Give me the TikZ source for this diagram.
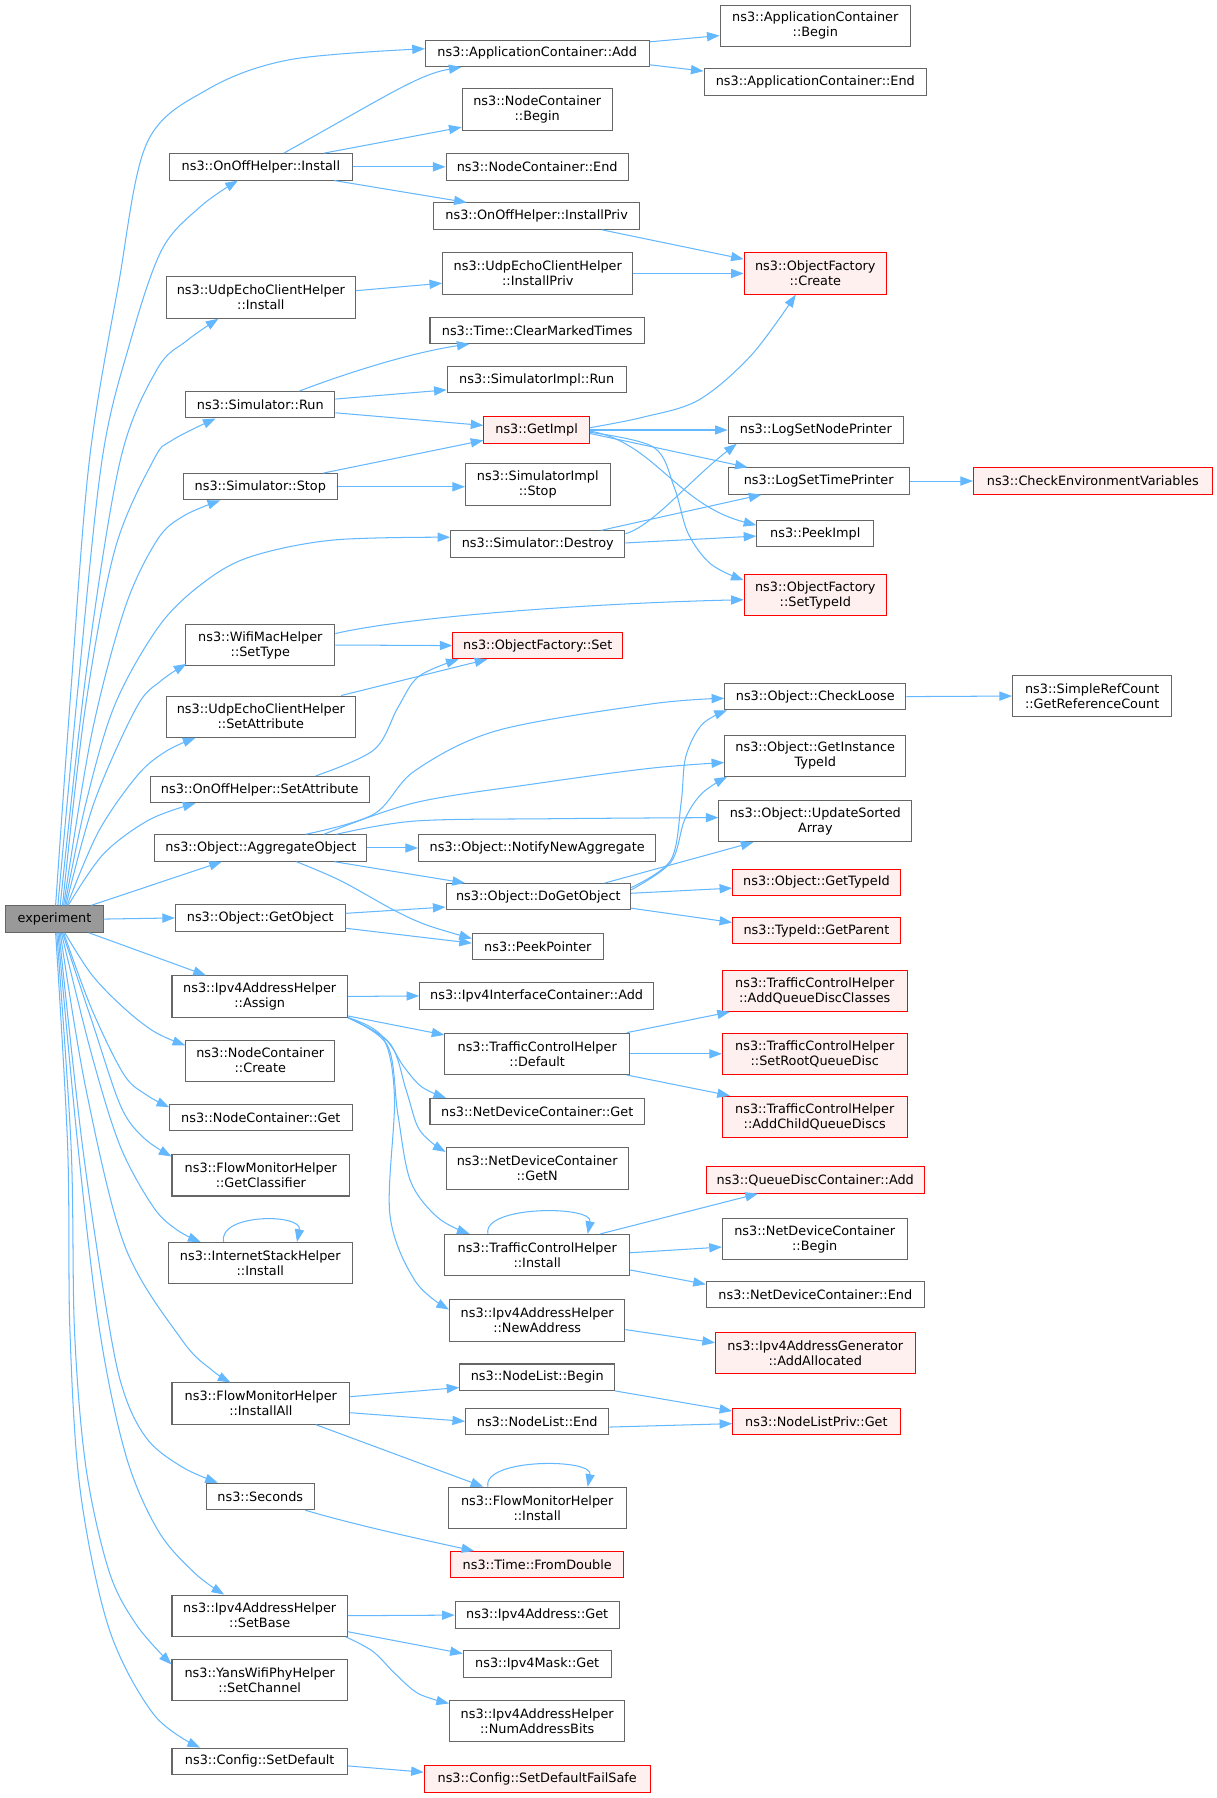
\documentclass[tikz,border=0pt]{standalone}
\usepackage{fontspec}
\setmainfont{DejaVu Sans}
\usetikzlibrary{arrows.meta}
\definecolor{edgec}{HTML}{63B8FF}
\definecolor{nodeb}{HTML}{666666}
\definecolor{warnf}{HTML}{FFF0F0}
\definecolor{warnb}{HTML}{FF0000}
\definecolor{rootf}{HTML}{999999}
\begin{document}
\begin{tikzpicture}[x=1pt,y=-1pt,
  fn/.style={draw=nodeb, fill=white, line width=0.9pt, inner sep=0pt, minimum height=23pt,
    font=\fontsize{11.2}{13.1}\selectfont, align=center, text=black},
  two/.style={minimum height=36pt},
  warn/.style={draw=warnb, fill=warnf},
  rootn/.style={fill=rootf},
  conn/.style={draw=edgec, line width=0.9pt, -{Triangle[length=11pt,width=8pt]}},
  sm/.style={smooth, tension=0.55}]
\fill[white] (0,0) rectangle (1061,1568);
\useasboundingbox (0,0) rectangle (1061,1568);

% nodes
\node[fn,rootn,minimum width=85pt] (exper) at (47.5,801.5) {experiment};
\node[fn,minimum width=195pt] (acAdd) at (468.5,46.5) {ns3::ApplicationContainer::Add};
\node[fn,two,minimum width=166pt] (acBegin) at (711,22.5) {ns3::ApplicationContainer\\::Begin};
\node[fn,minimum width=194pt] (acEnd) at (711,71.5) {ns3::ApplicationContainer::End};
\node[fn,two,minimum width=131pt] (ncBegin) at (468.5,95.5) {ns3::NodeContainer\\::Begin};
\node[fn,minimum width=159pt] (onInstall) at (227.5,145.5) {ns3::OnOffHelper::Install};
\node[fn,minimum width=159pt] (ncEnd) at (468.5,145.5) {ns3::NodeContainer::End};
\node[fn,minimum width=180pt] (onInstallPriv) at (468,188.5) {ns3::OnOffHelper::InstallPriv};
\node[fn,two,minimum width=166pt] (udpInstallPriv) at (469,238.5) {ns3::UdpEchoClientHelper\\::InstallPriv};
\node[fn,two,warn,minimum width=124pt] (ofCreate) at (711,238.5) {ns3::ObjectFactory\\::Create};
\node[fn,two,minimum width=165pt] (udpInstall) at (227.5,259.5) {ns3::UdpEchoClientHelper\\::Install};
\node[fn,minimum width=187pt] (clearMarked) at (468.5,288) {ns3::Time::ClearMarkedTimes};
\node[fn,minimum width=156pt] (simImplRun) at (468,331) {ns3::SimulatorImpl::Run};
\node[fn,minimum width=130pt] (simRun) at (227,353) {ns3::Simulator::Run};
\node[fn,warn,minimum width=92pt] (getImpl) at (468,375) {ns3::GetImpl};
\node[fn,minimum width=153pt] (logNode) at (711.5,375) {ns3::LogSetNodePrinter};
\node[fn,minimum width=158pt] (logTime) at (714,419.5) {ns3::LogSetTimePrinter};
\node[fn,warn,minimum width=208pt] (checkEnv) at (953,419.5) {ns3::CheckEnvironmentVariables};
\node[fn,minimum width=134pt] (simStop) at (227,424.5) {ns3::Simulator::Stop};
\node[fn,two,minimum width=126pt] (simImplStop) at (469,422.5) {ns3::SimulatorImpl\\::Stop};
\node[fn,minimum width=152pt] (simDestroy) at (469,474.5) {ns3::Simulator::Destroy};
\node[fn,minimum width=102pt] (peekImpl) at (711,465.5) {ns3::PeekImpl};
\node[fn,two,warn,minimum width=124pt] (ofSetTypeId) at (711,519) {ns3::ObjectFactory\\::SetTypeId};
\node[fn,two,minimum width=130pt] (wifiSetType) at (227,562.5) {ns3::WifiMacHelper\\::SetType};
\node[fn,warn,minimum width=148pt] (ofSet) at (469,563) {ns3::ObjectFactory::Set};
\node[fn,two,minimum width=165pt] (udpSetAttr) at (227.5,625) {ns3::UdpEchoClientHelper\\::SetAttribute};
\node[fn,minimum width=158pt] (checkLoose) at (711,607.5) {ns3::Object::CheckLoose};
\node[fn,two,minimum width=139pt] (refCount) at (952.5,607) {ns3::SimpleRefCount\\::GetReferenceCount};
\node[fn,two,minimum width=158pt] (getInstTid) at (711,659) {ns3::Object::GetInstance\\TypeId};
\node[fn,minimum width=191pt] (onSetAttr) at (226.5,688.5) {ns3::OnOffHelper::SetAttribute};
\node[fn,two,minimum width=168pt] (updSorted) at (711,716) {ns3::Object::UpdateSorted\\Array};
\node[fn,minimum width=185pt] (aggObj) at (227.5,739.5) {ns3::Object::AggregateObject};
\node[fn,minimum width=207pt] (notifyAgg) at (468.5,739.5) {ns3::Object::NotifyNewAggregate};
\node[fn,minimum width=161pt] (doGetObj) at (469.5,782) {ns3::Object::DoGetObject};
\node[fn,warn,minimum width=146pt] (getTypeId) at (712,769.5) {ns3::Object::GetTypeId};
\node[fn,minimum width=148pt] (getObj) at (227,800.5) {ns3::Object::GetObject};
\node[fn,warn,minimum width=146pt] (getParent) at (712,811.5) {ns3::TypeId::GetParent};
\node[fn,minimum width=114pt] (peekPtr) at (469,825.5) {ns3::PeekPointer};
\node[fn,two,minimum width=153pt] (assign) at (226.5,869) {ns3::Ipv4AddressHelper\\::Assign};
\node[fn,minimum width=204pt] (ifcAdd) at (468,868.5) {ns3::Ipv4InterfaceContainer::Add};
\node[fn,two,warn,minimum width=161pt] (addQDC) at (710.5,864) {ns3::TrafficControlHelper\\::AddQueueDiscClasses};
\node[fn,two,minimum width=161pt] (tchDefault) at (468.5,919) {ns3::TrafficControlHelper\\::Default};
\node[fn,two,warn,minimum width=161pt] (setRootQD) at (710.5,919) {ns3::TrafficControlHelper\\::SetRootQueueDisc};
\node[fn,two,minimum width=130pt] (ncCreate) at (227,925) {ns3::NodeContainer\\::Create};
\node[fn,two,warn,minimum width=161pt] (addChildQD) at (710.5,974) {ns3::TrafficControlHelper\\::AddChildQueueDiscs};
\node[fn,minimum width=187pt] (ndcGet) at (468.5,969.5) {ns3::NetDeviceContainer::Get};
\node[fn,minimum width=159pt] (ncGet) at (227.5,974.5) {ns3::NodeContainer::Get};
\node[fn,two,minimum width=155pt] (getClassifier) at (227.5,1025) {ns3::FlowMonitorHelper\\::GetClassifier};
\node[fn,two,minimum width=159pt] (ndcGetN) at (468.5,1019) {ns3::NetDeviceContainer\\::GetN};
\node[fn,warn,minimum width=190pt] (qdcAdd) at (711,1029) {ns3::QueueDiscContainer::Add};
\node[fn,two,minimum width=161pt] (ndcBegin) at (710.5,1080.5) {ns3::NetDeviceContainer\\::Begin};
\node[fn,two,minimum width=161pt] (tchInstall) at (468.5,1094.5) {ns3::TrafficControlHelper\\::Install};
\node[fn,two,minimum width=160pt] (ishInstall) at (227,1101.5) {ns3::InternetStackHelper\\::Install};
\node[fn,minimum width=190pt] (ndcEnd) at (711,1129) {ns3::NetDeviceContainer::End};
\node[fn,two,minimum width=153pt] (newAddr) at (468.5,1151.5) {ns3::Ipv4AddressHelper\\::NewAddress};
\node[fn,two,warn,minimum width=174pt] (addAlloc) at (711,1180) {ns3::Ipv4AddressGenerator\\::AddAllocated};
\node[fn,minimum width=135pt] (nlBegin) at (468.5,1201) {ns3::NodeList::Begin};
\node[fn,two,minimum width=155pt] (installAll) at (227.5,1224) {ns3::FlowMonitorHelper\\::InstallAll};
\node[fn,minimum width=125pt] (nlEnd) at (468.5,1239.5) {ns3::NodeList::End};
\node[fn,warn,minimum width=146pt] (nlpGet) at (712,1239.5) {ns3::NodeListPriv::Get};
\node[fn,two,minimum width=155pt] (fmhInstall) at (468.5,1315) {ns3::FlowMonitorHelper\\::Install};
\node[fn,minimum width=94pt] (seconds) at (227,1305) {ns3::Seconds};
\node[fn,warn,minimum width=151pt] (fromDouble) at (468.5,1364.5) {ns3::Time::FromDouble};
\node[fn,two,minimum width=153pt] (setBase) at (226.5,1409) {ns3::Ipv4AddressHelper\\::SetBase};
\node[fn,minimum width=143pt] (v4Get) at (468.5,1408.5) {ns3::Ipv4Address::Get};
\node[fn,minimum width=129pt] (maskGet) at (468.5,1451) {ns3::Ipv4Mask::Get};
\node[fn,two,minimum width=153pt] (numBits) at (468.5,1501) {ns3::Ipv4AddressHelper\\::NumAddressBits};
\node[fn,two,minimum width=153pt] (setChannel) at (226.5,1465) {ns3::YansWifiPhyHelper\\::SetChannel};
\node[fn,minimum width=153pt] (setDefault) at (226.5,1536) {ns3::Config::SetDefault};
\node[fn,warn,minimum width=197pt] (failSafe) at (468.5,1551.5) {ns3::Config::SetDefaultFailSafe};

% edges from experiment (upwards)
\draw[conn] plot[sm] coordinates {([xshift=1pt]exper.north) (62,600) (78,401) (103,250) (128,125) (181,78) (253,52) ([yshift=4pt]acAdd.west)};
\draw[conn] plot[sm] coordinates {([xshift=3pt]exper.north) (68,600) (89,401) (113,300) (141,218) (175,180) ([xshift=-20pt]onInstall.south)};
\draw[conn] plot[sm] coordinates {([xshift=5pt]exper.north) (76,580) (105,401) (137,322) (163,297) ([xshift=-37pt]udpInstall.south)};
\draw[conn] plot[sm] coordinates {([xshift=7pt]exper.north) (74,620) (100,480) (134,401) (150,384) ([xshift=-39pt]simRun.south)};
\draw[conn] plot[sm] coordinates {([xshift=8pt]exper.north) (80,640) (109,530) (137,471) (160,450) ([xshift=-35pt]simStop.south)};
\draw[conn] plot[sm] coordinates {([xshift=9pt]exper.north) (75,700) (100,615) (138,547) (175,510) (217,486) (290,471) ([yshift=6pt]simDestroy.west)};
\draw[conn] plot[sm] coordinates {([xshift=10pt]exper.north) (82,700) (119,617) (140,594) ([xshift=1pt,yshift=2pt]wifiSetType.south west)};
\draw[conn] plot[sm] coordinates {([xshift=11pt]exper.north) (86,725) (120,676) (145,655) ([xshift=-57pt]udpSetAttr.south)};
\draw[conn] plot[sm] coordinates {([xshift=12pt]exper.north) (90,745) (130,715) ([xshift=-56pt]onSetAttr.south)};
\draw[conn] ([xshift=32pt]exper.north) -- ([xshift=-34pt]aggObj.south);
\draw[conn] (exper.east) -- (getObj.west);
% edges from experiment (downwards)
\draw[conn] ([xshift=30pt]exper.south) -- ([xshift=-47pt]assign.north);
\draw[conn] plot[sm] coordinates {([xshift=9pt]exper.south) (80,850) (108,879) (135,900) ([yshift=-5pt]ncCreate.north west)};
\draw[conn] plot[sm] coordinates {([xshift=8pt]exper.south) (80,880) (108,937) (128,955) ([yshift=-3pt]ncGet.north west)};
\draw[conn] plot[sm] coordinates {([xshift=7pt]exper.south) (80,890) (105,964) (125,992) ([yshift=-2pt]getClassifier.north west)};
\draw[conn] plot[sm] coordinates {([xshift=6pt]exper.south) (80,920) (105,1000) (134,1053) (155,1073) ([xshift=-52pt]ishInstall.north)};
\draw[conn] plot[sm] coordinates {([xshift=5pt]exper.south) (75,950) (109,1087) (159,1169) (185,1195) ([xshift=-26.5pt]installAll.north)};
\draw[conn] plot[sm] coordinates {([xshift=4pt]exper.south) (72,1000) (96,1161) (110,1220) (130,1257) (160,1280) ([xshift=-37pt]seconds.north)};
\draw[conn] plot[sm] coordinates {([xshift=3pt]exper.south) (68,1000) (87,1161) (110,1270) (138,1335) (170,1372) ([xshift=-31pt]setBase.north)};
\draw[conn] plot[sm] coordinates {([xshift=2pt]exper.south) (62,1000) (65,1161) (75,1280) (95,1370) (119,1417) ([yshift=-5pt]setChannel.north west)};
\draw[conn] plot[sm] coordinates {([xshift=1pt]exper.south) (59,1000) (61,1161) (70,1300) (95,1420) (134,1495) ([xshift=-52pt]setDefault.north)};

% OnOffHelper::Install
\draw[conn] ([xshift=20pt]onInstall.north) .. controls (340,82) and (365,65) .. ([xshift=-66pt]acAdd.south);
\draw[conn] ([xshift=55pt]onInstall.north) -- ([yshift=3pt]ncBegin.south west);
\draw[conn] (onInstall.east) -- (ncEnd.west);
\draw[conn] ([xshift=64pt]onInstall.south) -- ([xshift=-61pt]onInstallPriv.north);
% ApplicationContainer::Add
\draw[conn] ([yshift=10pt]acAdd.east) -- ([yshift=-8.5pt]acBegin.west);
\draw[conn] ([yshift=-10pt]acAdd.east) -- ([yshift=9.5pt]acEnd.west);
% Create
\draw[conn] ([xshift=57pt]onInstallPriv.south) -- ([yshift=12.5pt]ofCreate.west);
\draw[conn] (udpInstallPriv.east) -- (ofCreate.west);
\draw[conn] ([yshift=6pt]udpInstall.east) -- ([yshift=-8.5pt]udpInstallPriv.west);
% Simulator::Run
\draw[conn] ([xshift=34pt]simRun.north) .. controls (295,328) and (355,308) .. ([xshift=-59pt]clearMarked.south);
\draw[conn] ([yshift=5pt]simRun.east) -- ([yshift=-9pt]simImplRun.west);
\draw[conn] ([yshift=-7pt]simRun.east) -- ([yshift=4pt]getImpl.west);
% Simulator::Stop
\draw[conn] ([xshift=55pt]simStop.north) -- ([yshift=-9pt]getImpl.west);
\draw[conn] (simStop.east) -- (simImplStop.west |- simStop.east);
% GetImpl
\draw[conn] plot[sm] coordinates {([yshift=2pt]getImpl.east) (560,364) (609,349) (655,310) ([xshift=-17pt]ofCreate.south)};
\draw[conn] (getImpl.east) -- (logNode.west);
\draw[conn] ([yshift=-3pt]getImpl.east) -- ([xshift=-62pt]logTime.north);
\draw[conn] ([yshift=-1pt]getImpl.east) .. controls (570,385) and (590,440) .. ([yshift=7.5pt]peekImpl.west);
\draw[conn] plot[sm] coordinates {([yshift=-2pt]getImpl.east) (570,390) (588,425) (600,465) (620,492) ([yshift=13pt]ofSetTypeId.west)};
% Simulator::Destroy
\draw[conn] ([yshift=9pt]simDestroy.east) .. controls (570,458) and (600,420) .. ([xshift=-69pt]logNode.south);
\draw[conn] ([xshift=55pt]simDestroy.north) -- ([xshift=-50pt]logTime.south);
\draw[conn] ([yshift=1pt]simDestroy.east) -- ([yshift=-2pt]peekImpl.west);
\draw[conn] (logTime.east) -- (checkEnv.west);
% ObjectFactory::Set callers
\draw[conn] (wifiSetType.east) -- (ofSet.west);
\draw[conn] ([yshift=10pt]wifiSetType.east) .. controls (360,537) and (520,526) .. ([yshift=-4pt]ofSetTypeId.west);
\draw[conn] ([xshift=70pt]udpSetAttr.north) -- ([xshift=-44pt]ofSet.south);
\draw[conn] plot[sm] coordinates {([xshift=49pt]onSetAttr.north) (326,654) (347,617) (365,590) ([xshift=-69pt]ofSet.south)};
% AggregateObject
\draw[conn] plot[sm] coordinates {([xshift=39pt]aggObj.north) (326,710) (362,672) (434,637) (567,614) ([yshift=-1.5pt]checkLoose.west)};
\draw[conn] plot[sm] coordinates {([xshift=55pt]aggObj.north) (362,700) (470,683) (567,670) ([yshift=-6pt]getInstTid.west)};
\draw[conn] plot[sm] coordinates {([xshift=66pt]aggObj.north) (362,716) (480,714) ([yshift=3pt]updSorted.west)};
\draw[conn] (aggObj.east) -- (notifyAgg.west);
\draw[conn] ([xshift=64pt]aggObj.south) -- ([xshift=-64pt]doGetObj.north);
\draw[conn] plot[sm] coordinates {([xshift=31pt]aggObj.south) (297,768) (344,794) (373,807) ([yshift=7pt]peekPtr.west)};
% DoGetObject
\draw[conn] plot[sm] coordinates {([yshift=8pt]doGetObj.east) (585,750) (594,700) (598,660) (612,632) ([xshift=-77pt]checkLoose.south)};
\draw[conn] plot[sm] coordinates {([yshift=6pt]doGetObj.east) (585,752) (597,715) (612,692) ([xshift=-77pt]getInstTid.south)};
\draw[conn] ([xshift=58pt]doGetObj.north) -- ([xshift=-54pt]updSorted.south);
\draw[conn] ([yshift=3pt]doGetObj.east) -- ([yshift=-5pt]getTypeId.west);
\draw[conn] ([yshift=-10pt]doGetObj.east) -- ([yshift=7pt]getParent.west);
\draw[conn] ([yshift=4pt]getObj.east) -- ([yshift=-9pt]doGetObj.west);
\draw[conn] ([yshift=-9pt]getObj.east) -- ([yshift=3pt]peekPtr.west);
\draw[conn] (checkLoose.east) -- (refCount.west);
% Assign
\draw[conn] (assign.east) -- (ifcAdd.west);
\draw[conn] ([yshift=-17pt]assign.east) -- ([yshift=-2pt]tchDefault.north west);
\draw[conn] plot[sm] coordinates {(assign.south east) (335,905) (352,930) (368,948) ([xshift=-79.5pt]ndcGet.north)};
\draw[conn] plot[sm] coordinates {(assign.south east) (340,910) (354,950) (364,982) (376,996) ([yshift=-4pt]ndcGetN.north west)};
\draw[conn] plot[sm] coordinates {(assign.south east) (338,912) (347,972) (358,1030) (382,1062) ([xshift=-59pt]tchInstall.north)};
\draw[conn] plot[sm] coordinates {(assign.south east) (334,905) (344,957) (340,1059) (362,1117) ([yshift=-9pt]newAddr.north west)};
% TrafficControlHelper
\draw[conn] ([xshift=78pt]tchDefault.north) -- ([xshift=7pt]addQDC.south west);
\draw[conn] (tchDefault.east) -- (setRootQD.west);
\draw[conn] ([xshift=78pt]tchDefault.south) -- ([xshift=7pt]addChildQD.north west);
\draw[conn] ([xshift=55pt]tchInstall.north) -- ([xshift=-50pt]qdcAdd.south);
\draw[conn] ([yshift=2pt]tchInstall.east) -- ([yshift=-7pt]ndcBegin.west);
\draw[conn] ([yshift=-13pt]tchInstall.east) -- ([yshift=9pt]ndcEnd.west);
\draw[conn] ([xshift=-43pt]tchInstall.north) .. controls +(-5,-25) and +(5,-25) .. ([xshift=44pt]tchInstall.north);
\draw[conn] ([xshift=-32pt]ishInstall.north) .. controls +(-5,-25) and +(5,-25) .. ([xshift=32pt]ishInstall.north);
\draw[conn] ([xshift=-43pt]fmhInstall.north) .. controls +(-5,-25) and +(5,-25) .. ([xshift=44pt]fmhInstall.north);
\draw[conn] ([yshift=-8pt]newAddr.east) -- ([yshift=9pt]addAlloc.west);
% FlowMonitor / NodeList
\draw[conn] ([yshift=6pt]installAll.east) -- ([yshift=-9pt]nlBegin.west);
\draw[conn] ([yshift=-8pt]installAll.east) -- (nlEnd.west);
\draw[conn] ([xshift=48pt]installAll.south) -- ([xshift=-47pt]fmhInstall.north);
\draw[conn] ([yshift=-12pt]nlBegin.east) -- ([yshift=9pt]nlpGet.west);
\draw[conn] ([yshift=-5pt]nlEnd.east) -- ([yshift=-2pt]nlpGet.west);
\draw[conn] ([xshift=39pt]seconds.south) .. controls (310,1330) and (370,1343) .. ([xshift=-55pt]fromDouble.north);
% SetBase
\draw[conn] (setBase.east) -- (v4Get.west);
\draw[conn] ([yshift=-14pt]setBase.east) -- ([yshift=-3pt]maskGet.north west);
\draw[conn] plot[sm] coordinates {([xshift=75pt]setBase.south) (325,1440) (345,1460) (365,1477) ([yshift=-3pt]numBits.north west)};
\draw[conn] ([yshift=-4pt]setDefault.east) -- ([yshift=6pt]failSafe.west);
\end{tikzpicture}
\end{document}
